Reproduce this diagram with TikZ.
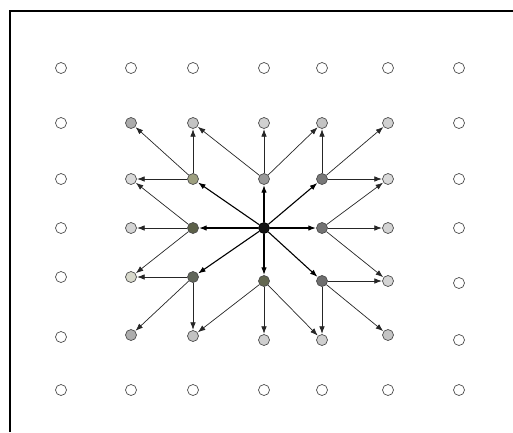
\documentclass[tikz,border=0pt]{standalone}
\usetikzlibrary{arrows.meta}
\definecolor{OliveLight}{HTML}{9EA080}
\definecolor{OliveDark}{HTML}{5C6048}
\definecolor{OliveGray}{HTML}{61665A}
\begin{document}
\begin{tikzpicture}[x=1pt,y=-1pt,
  dot/.style={circle, draw=black!70, line width=0.7pt, minimum size=11pt, inner sep=0pt},
  cell/.style={dot, fill=white},
  link/.style={draw=black!85, line width=0.7pt, -{Latex[length=7.5pt,width=5.5pt]}, shorten >=0.3pt},
  spoke/.style={link, draw=black, line width=1.1pt}]
\useasboundingbox (0,0) rectangle (513,432);
% frame
\draw[line width=2.4pt] (10,432) -- (10,11) -- (513,11);

% empty cells round the edge
\foreach \x/\y [count=\i] in {61/68, 131/68, 193/68, 264/68, 322/68, 388/68, 459/68,
    61/123, 61/179, 61/228, 61/277, 61/337,
    459/123, 459/179, 459/228, 459/283, 459/340,
    61/390, 131/390, 193/390, 264/390, 322/390, 388/390, 459/390}
  \node[cell] (w\i) at (\x,\y) {};

% second ring
\node[dot, fill=black!33] (t1) at (131,123) {};
\node[dot, fill=black!23] (t2) at (193,123) {};
\node[dot, fill=black!18] (t3) at (264,123) {};
\node[dot, fill=black!23] (t4) at (322,123) {};
\node[dot, fill=black!18] (t5) at (388,123) {};
\node[dot, fill=black!15] (l2) at (131,179) {};
\node[dot, fill=black!17] (l3) at (131,228) {};
\node[dot, fill=OliveLight!40] (l4) at (131,277) {};
\node[dot, fill=black!15] (r2) at (388,179) {};
\node[dot, fill=black!17] (r3) at (388,228) {};
\node[dot, fill=black!17] (r4) at (388,281) {};
\node[dot, fill=black!32] (b1) at (131,335) {};
\node[dot, fill=black!24] (b2) at (193,336) {};
\node[dot, fill=black!19] (b3) at (264,340) {};
\node[dot, fill=black!19] (b4) at (322,340) {};
\node[dot, fill=black!23] (b5) at (388,335) {};

% first ring
\node[dot, fill=OliveLight] (nw) at (193,179) {};
\node[dot, fill=black!40] (n) at (264,179) {};
\node[dot, fill=black!53] (ne) at (322,179) {};
\node[dot, fill=OliveDark] (w) at (193,228) {};
\node[dot, fill=black!55] (e) at (322,228) {};
\node[dot, fill=OliveGray] (sw) at (193,277) {};
\node[dot, fill=OliveDark!95] (s) at (264,281) {};
\node[dot, fill=black!57] (se) at (322,281) {};

% centre
\node[dot, fill=black!92, draw=black] (c) at (264,228) {};

\foreach \to in {nw, n, ne, w, e, sw, s, se}
  \draw[spoke] (c) -- (\to);

\foreach \from/\to in {nw/t1, nw/t2, nw/l2, n/t2, n/t3, n/t4, ne/t4, ne/t5, ne/r2,
    w/l2, w/l3, w/l4, e/r2, e/r3, e/r4, sw/l4, sw/b1, sw/b2,
    s/b2, s/b3, s/b4, se/r4, se/b4, se/b5}
  \draw[link] (\from) -- (\to);
\end{tikzpicture}
\end{document}
